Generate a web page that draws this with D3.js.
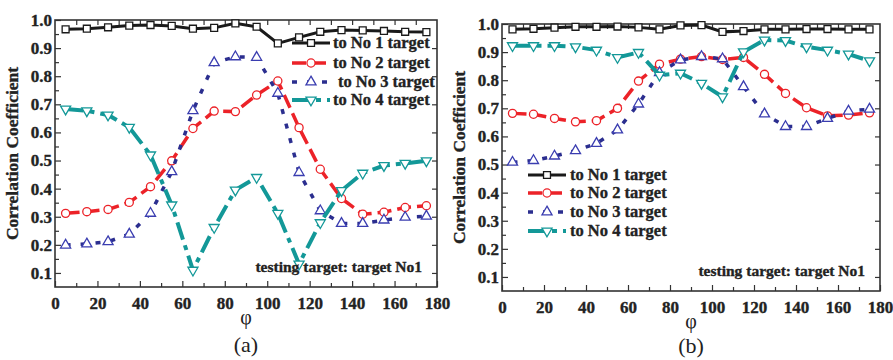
<!DOCTYPE html>
<html>
<head>
<meta charset="utf-8">
<script src="https://cdn.jsdelivr.net/npm/d3@7"></script>
<style>
  body { margin: 0; background: #fff; }
  text { font-family: 'Liberation Serif', 'Times New Roman', serif; }
</style>
</head>
<body>
<svg id="chart" width="893" height="360"></svg>
<script>
// angle phi (degrees) of each sample
const phi = [5, 15, 25, 35, 45, 55, 65, 75, 85, 95, 105, 115, 125, 135, 145, 155, 165, 175]

// panel (a) series
const aNo1 = [0.967, 0.969, 0.974, 0.980, 0.982, 0.979, 0.969, 0.972, 0.988, 0.976, 0.917, 0.938, 0.958, 0.964, 0.963, 0.961, 0.958, 0.957]
const aNo2 = [0.312, 0.318, 0.326, 0.351, 0.407, 0.499, 0.614, 0.676, 0.674, 0.733, 0.783, 0.617, 0.469, 0.365, 0.309, 0.316, 0.333, 0.339]
const aNo3 = [0.199, 0.203, 0.211, 0.238, 0.312, 0.460, 0.677, 0.848, 0.869, 0.867, 0.739, 0.457, 0.321, 0.276, 0.276, 0.288, 0.298, 0.302]
const aNo4 = [0.683, 0.677, 0.662, 0.618, 0.520, 0.342, 0.110, 0.262, 0.395, 0.440, 0.312, 0.132, 0.279, 0.393, 0.455, 0.482, 0.490, 0.499]

// panel (b) series
const bNo1 = [0.981, 0.983, 0.987, 0.990, 0.990, 0.991, 0.988, 0.981, 0.995, 0.996, 0.972, 0.975, 0.981, 0.981, 0.982, 0.982, 0.981, 0.981]
const bNo2 = [0.682, 0.679, 0.664, 0.652, 0.656, 0.700, 0.797, 0.857, 0.875, 0.884, 0.874, 0.881, 0.821, 0.753, 0.702, 0.673, 0.676, 0.684]
const bNo3 = [0.508, 0.514, 0.530, 0.549, 0.575, 0.623, 0.715, 0.827, 0.872, 0.884, 0.876, 0.777, 0.680, 0.635, 0.635, 0.664, 0.690, 0.697]
const bNo4 = [0.923, 0.923, 0.923, 0.919, 0.907, 0.881, 0.899, 0.818, 0.825, 0.789, 0.741, 0.901, 0.943, 0.941, 0.919, 0.907, 0.893, 0.869]

const seriesNames = ['to No 1 target', 'to No 2 target', 'to No 3 target', 'to No 4 target']
const xTicks = [0, 20, 40, 60, 80, 100, 120, 140, 160, 180]
const yTicks = [0.1, 0.2, 0.3, 0.4, 0.5, 0.6, 0.7, 0.8, 0.9, 1.0]
const note = 'testing target: target No1'

// line / marker styles per series
const styles = [
  { color: '#1a1a1a', mark: '#1a1a1a', dash: null, width: 3, symbol: d3.symbolSquare, size: 48, rot: 0 },
  { color: '#ec2228', mark: '#ec2228', dash: '14,6', width: 3.5, symbol: d3.symbolCircle, size: 52, rot: 0 },
  { color: '#2b2e8f', mark: '#3a3db0', dash: '5,10', width: 3.5, symbol: d3.symbolTriangle, size: 44, rot: 0 },
  { color: '#139898', mark: '#139898', dash: '18,6,5,6', width: 4, symbol: d3.symbolTriangle, size: 44, rot: 180 },
]

const svg = d3.select('#chart')

// heavy bold serif like the original figure
function boldText(sel, size) {
  sel.attr('font-size', size).attr('font-weight', 'bold')
    .attr('fill', '#222').attr('stroke', '#222').attr('stroke-width', 0.35)
}

function panel(opt) {
  const { left, right, top, bottom, data, legend, label } = opt
  const x = d3.scaleLinear().domain([0, 180]).range([left, right])
  const y = d3.scaleLinear().domain([0.05, 1.0]).range([bottom, top])
  const g = svg.append('g')

  // axes, ticks pointing inside
  const gx = g.append('g').attr('transform', `translate(0,${bottom})`)
    .call(d3.axisBottom(x).tickValues(xTicks).tickSize(-6).tickPadding(10).tickFormat(d3.format('d')))
  g.append('g').attr('transform', `translate(0,${bottom})`)
    .call(d3.axisBottom(x).tickValues(d3.range(10, 180, 20)).tickSize(-4).tickFormat(''))
  g.append('g').attr('transform', `translate(0,${top})`)
    .call(d3.axisTop(x).tickValues(d3.range(10, 180, 10)).tickSize(-5).tickFormat(''))
  const gy = g.append('g').attr('transform', `translate(${left},0)`)
    .call(d3.axisLeft(y).tickValues(yTicks).tickSize(-6).tickPadding(3).tickFormat(d3.format('.1f')))
  g.append('g').attr('transform', `translate(${left},0)`)
    .call(d3.axisLeft(y).tickValues(d3.range(0.15, 1.0, 0.1)).tickSize(-4).tickFormat(''))
  g.append('g').attr('transform', `translate(${right},0)`)
    .call(d3.axisRight(y).tickValues(d3.range(0.1, 1.0, 0.1)).tickSize(-5).tickFormat(''))

  g.selectAll('.domain').remove()
  g.selectAll('.tick line').attr('stroke', '#333').attr('stroke-width', 1.2)
  gx.selectAll('text').call(boldText, '17px')
  gy.selectAll('text').call(boldText, '17px')

  g.append('rect')
    .attr('x', left).attr('y', top)
    .attr('width', right - left).attr('height', bottom - top)
    .attr('fill', 'none').attr('stroke', '#333').attr('stroke-width', 1.6)

  // series
  const lineGen = d3.line().x((d, i) => x(phi[i])).y((d) => y(d))
  data.forEach((vals, k) => {
    const s = styles[k]
    g.append('path')
      .attr('d', lineGen(vals))
      .attr('fill', 'none')
      .attr('stroke', s.color)
      .attr('stroke-width', s.width)
      .attr('stroke-dasharray', s.dash)
    g.selectAll(null).data(vals).enter().append('path')
      .attr('d', d3.symbol().type(s.symbol).size(s.size))
      .attr('transform', (d, i) => `translate(${x(phi[i])},${y(d)}) rotate(${s.rot})`)
      .attr('fill', '#fff')
      .attr('stroke', s.mark)
      .attr('stroke-width', 1.3)
  })

  // legend
  legend.rows.forEach((ry, k) => {
    const s = styles[k]
    g.append('line')
      .attr('x1', legend.x0).attr('x2', legend.x1)
      .attr('y1', ry).attr('y2', ry)
      .attr('stroke', s.color)
      .attr('stroke-width', s.width)
      .attr('stroke-dasharray', s.dash)
    g.append('path')
      .attr('d', d3.symbol().type(s.symbol).size(s.size))
      .attr('transform', `translate(${(legend.x0 + legend.x1) / 2},${ry}) rotate(${s.rot})`)
      .attr('fill', '#fff').attr('stroke', s.mark).attr('stroke-width', 1.3)
    g.append('text')
      .attr('x', legend.tx[k]).attr('y', ry).attr('dy', '0.33em')
      .call(boldText, '16.5px')
      .text(seriesNames[k])
  })

  g.append('text')
    .attr('x', right - 15).attr('y', bottom - 15)
    .attr('text-anchor', 'end')
    .call(boldText, '15.5px')
    .text(note)

  // axis titles
  const cx = (left + right) / 2
  g.append('text')
    .attr('x', cx).attr('y', bottom + 37)
    .attr('text-anchor', 'middle').attr('font-size', '20px').attr('fill', '#222')
    .text('φ')
  g.append('text')
    .attr('transform', `translate(${left - 37},${(top + bottom) / 2}) rotate(-90)`)
    .attr('text-anchor', 'middle')
    .call(boldText, '17.5px')
    .text('Correlation Coefficient')
  g.append('text')
    .attr('x', cx).attr('y', label.y)
    .attr('text-anchor', 'middle').attr('font-size', '22px').attr('fill', '#222')
    .text(label.text)
}

panel({
  left: 55, right: 437, top: 20, bottom: 287,
  data: [aNo1, aNo2, aNo3, aNo4],
  legend: { x0: 292, x1: 330, rows: [43, 63, 82, 100], tx: [333, 333, 338, 333] },
  label: { text: '(a)', y: 352 },
})

panel({
  left: 502, right: 880, top: 24, bottom: 291,
  data: [bNo1, bNo2, bNo3, bNo4],
  legend: { x0: 528, x1: 566, rows: [175, 193, 212, 231], tx: [570, 570, 570, 570] },
  label: { text: '(b)', y: 353 },
})
</script>
</body>
</html>
